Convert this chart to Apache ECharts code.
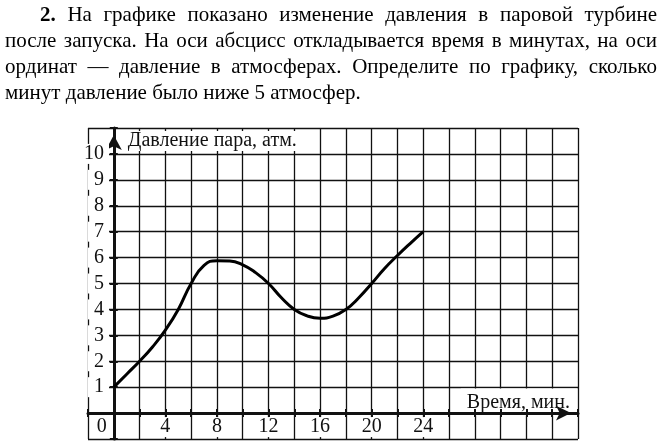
<!DOCTYPE html>
<html>
<head>
<meta charset="utf-8">
<script src="https://cdn.jsdelivr.net/npm/echarts@6/dist/echarts.min.js"></script>
<style>
  html, body { margin: 0; padding: 0; background: #fff; }
  #wrap { position: relative; width: 664px; height: 448px; overflow: hidden; }
  #chart { position: absolute; left: 0; top: 0; width: 664px; height: 448px; }
  #task { position: absolute; left: 5px; top: 1px; width: 652px; color: #000;
          font-family: "Liberation Serif", serif; font-size: 21px; line-height: 26px; }
  #task .j { text-align: justify; text-align-last: justify; }
  #task .first { padding-left: 35px; }
</style>
</head>
<body>
<div id="wrap">
  <div id="chart"></div>
  <div id="task">
    <div class="j first"><b>2.</b> На графике показано изменение давления в паровой турбине</div>
    <div class="j">после запуска. На оси абсцисс откладывается время в минутах, на оси</div>
    <div class="j">ординат — давление в атмосферах. Определите по графику, сколько</div>
    <div>минут давление было ниже 5 атмосфер.</div>
  </div>
</div>
<script>
// время, мин.
const minutes = [0, 1, 2, 3, 4, 5, 6, 7, 8, 9, 10, 11, 12,
                 13, 14, 15, 16, 17, 18, 19, 20, 21, 22, 23, 24];
// давление пара, атм.
const pressure = [1, 1.5, 2, 2.55, 3.2, 4, 5, 5.7, 5.88, 5.87, 5.72, 5.42, 5,
                  4.45, 4, 3.75, 3.66, 3.74, 4, 4.45, 5, 5.58, 6.08, 6.55, 7];
const xLabels = [0, 4, 8, 12, 16, 20, 24];
const yLabels = [1, 2, 3, 4, 5, 6, 7, 8, 9, 10];

const INK = "#111";
const FONT = "Liberation Serif";

// клетчатое поле: x от -2 до 36, y от -1 до 11
const X0 = -2, X1 = 36, Y0 = -1, Y1 = 11;
const G = { left: 88, top: 128, width: 490, height: 311 };
const cellW = G.width / (X1 - X0);
const cellH = G.height / (Y1 - Y0);

const tick = (inside, z) => ({ inside: inside, length: 4, lineStyle: { color: INK, width: 2 } });
const ghostLine = { onZero: true, onZeroAxisIndex: 0, lineStyle: { color: "rgba(0,0,0,0)" } };

var chart = echarts.init(document.getElementById("chart"));
chart.setOption({
    animation: false,
    grid: [
        Object.assign({ show: false, outerBoundsMode: "none" }, G),
        // нижняя полоса с подписями времени
        {
            show: false, outerBoundsMode: "none", left: G.left, width: G.width,
            top: G.top + cellH * Y1, height: cellH * (0 - Y0)
        },
        // левая колонка с подписями давления
        {
            show: false, outerBoundsMode: "none", left: G.left, top: G.top,
            width: cellW * (0 - X0), height: G.height
        }
    ],
    xAxis: [
        {
            type: "value", gridIndex: 0, min: X0, max: X1, interval: 2,
            position: "bottom", z: 2,
            axisLine: {
                onZero: true,
                onZeroAxisIndex: 0,
                lineStyle: { color: INK, width: 3 },
                symbol: ["none", "arrow"],
                symbolSize: [11, 15],
                symbolOffset: [0, -7]
            },
            axisTick: tick(false),
            axisLabel: { show: false },
            splitLine: { show: true, lineStyle: { color: INK, width: 1.3 } },
            name: "{t|Время, мин.}",
            nameLocation: "end",
            nameGap: -1,
            nameTextStyle: {
                align: "right",
                verticalAlign: "bottom",
                padding: [0, 0, 3, 0],
                rich: {
                    t: {
                        color: INK, fontFamily: FONT, fontSize: 20,
                        backgroundColor: "#fff", lineHeight: 16, padding: [4, 7, 3, 6]
                    }
                }
            }
        },
        {
            type: "value", gridIndex: 0, min: X0, max: X1, interval: 2,
            position: "bottom", z: 3,
            axisLine: ghostLine,
            axisTick: tick(true),
            axisLabel: { show: false },
            splitLine: { show: false }
        },
        {
            type: "value", gridIndex: 1, min: X0, max: X1, interval: 2,
            position: "top", z: 4,
            axisLine: { show: false },
            axisTick: { show: false },
            splitLine: { show: false },
            axisLabel: {
                inside: true,
                margin: 4,
                color: INK,
                fontFamily: FONT,
                fontSize: 20,
                formatter: v => {
                    if (v === 0) return "{z|0}";
                    return xLabels.indexOf(v) >= 0 ? "{b|" + v + "}" : "";
                },
                rich: {
                    z: { padding: [0, 24, 0, 0], lineHeight: 20 },
                    b: { backgroundColor: "#fff", lineHeight: 20, padding: [0, 1, 0, 1] }
                }
            }
        },
        { type: "value", gridIndex: 2, min: X0, max: 0, show: false }
    ],
    yAxis: [
        {
            type: "value", gridIndex: 0, min: Y0, max: Y1, interval: 1,
            position: "left", z: 2,
            axisLine: {
                onZero: true,
                onZeroAxisIndex: 0,
                lineStyle: { color: INK, width: 3 },
                symbol: ["none", "arrow"],
                symbolSize: [12, 15],
                symbolOffset: [0, -7]
            },
            axisTick: tick(false),
            axisLabel: { show: false },
            splitLine: { show: true, lineStyle: { color: INK, width: 1.3 } },
            name: "{t|Давление пара, атм.}",
            nameLocation: "end",
            nameGap: -13,
            nameTextStyle: {
                align: "left",
                verticalAlign: "middle",
                padding: [0, 0, 0, 6],
                rich: {
                    t: {
                        color: INK, fontFamily: FONT, fontSize: 20,
                        backgroundColor: "#fff", lineHeight: 23, padding: [0, 14, 0, 8]
                    }
                }
            }
        },
        {
            type: "value", gridIndex: 0, min: Y0, max: Y1, interval: 1,
            position: "left", z: 3,
            axisLine: ghostLine,
            axisTick: tick(true),
            axisLabel: { show: false },
            splitLine: { show: false }
        },
        { type: "value", gridIndex: 1, min: Y0, max: 0, show: false },
        {
            type: "value", gridIndex: 2, min: Y0, max: Y1, interval: 1,
            position: "right", z: 4,
            axisLine: { show: false },
            axisTick: { show: false },
            splitLine: { show: false },
            axisLabel: {
                inside: true,
                margin: 4.8,
                color: INK,
                fontFamily: FONT,
                fontSize: 20,
                formatter: v => {
                    if (yLabels.indexOf(v) < 0) return "";
                    return v >= 10 ? "{d|" + v + "}" : "{c|" + v + "}";
                },
                rich: {
                    c: { padding: [0, 5, 0, 6], backgroundColor: "#fff", lineHeight: 8 },
                    d: { padding: [0, 5, 0, 0], backgroundColor: "#fff", lineHeight: 8 }
                }
            }
        }
    ],
    series: [
        {
            type: "line",
            xAxisIndex: 0,
            yAxisIndex: 0,
            data: minutes.map((m, i) => [m, pressure[i]]),
            smooth: 0.5,
            symbol: "none",
            lineStyle: { color: "#000", width: 3 },
            z: 10
        }
    ]
});
</script>
</body>
</html>
